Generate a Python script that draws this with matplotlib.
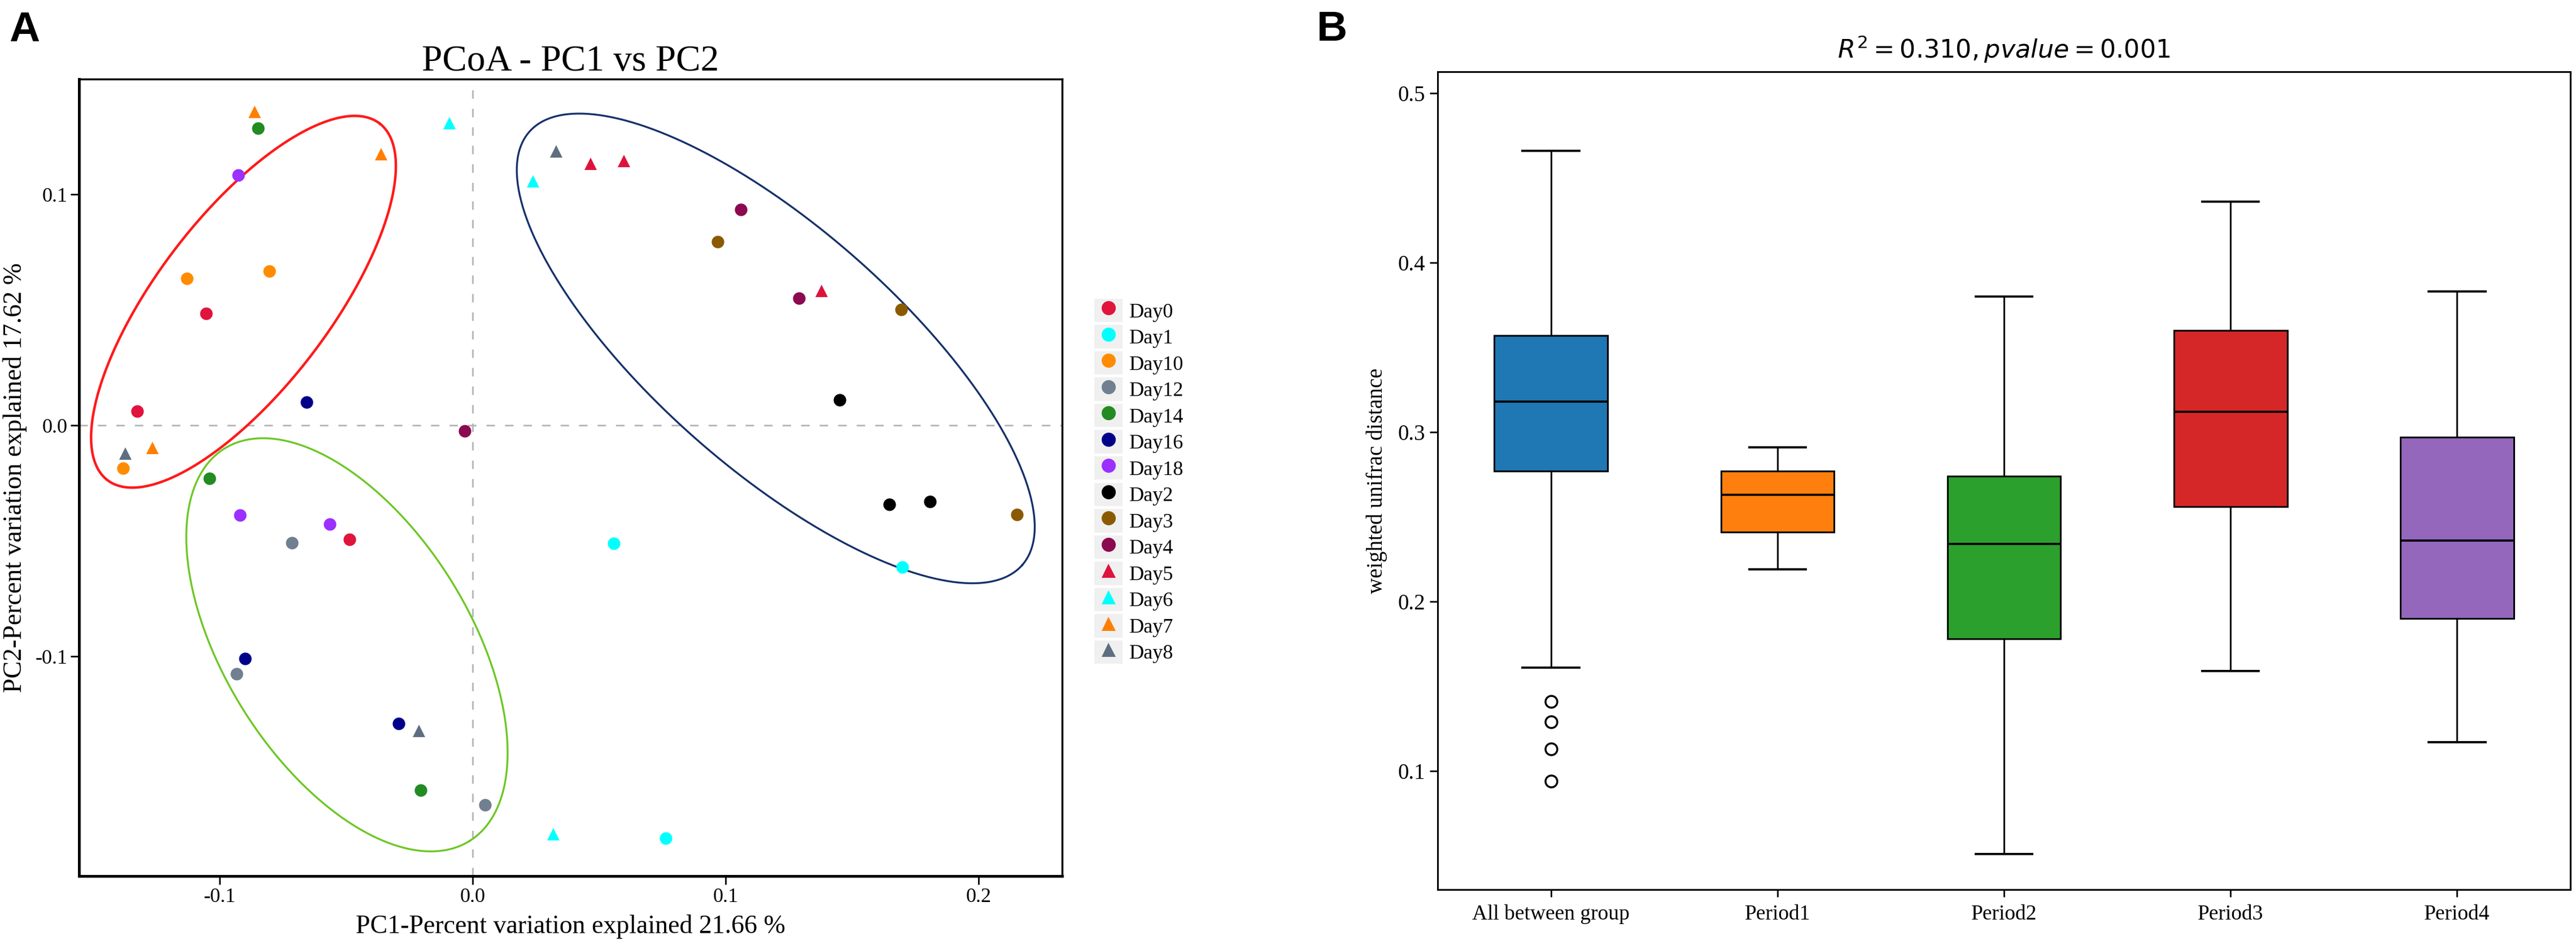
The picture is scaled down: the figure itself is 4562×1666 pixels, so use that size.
import numpy as np
import matplotlib
matplotlib.use("Agg")
import matplotlib.pyplot as plt
from matplotlib.patches import Rectangle
from matplotlib.lines import Line2D

plt.rcParams["axes.unicode_minus"] = False
plt.rcParams["mathtext.fontset"] = "dejavusans"

SERIF = "Liberation Serif"

# ---- panel A: PCoA scores ----
groups = ["Day0", "Day1", "Day10", "Day12", "Day14", "Day16", "Day18",
          "Day2", "Day3", "Day4", "Day5", "Day6", "Day7", "Day8"]
group_colors = ["#E0143C", "#00FFFF", "#FF8C00", "#708090", "#228B22", "#00008B", "#9B30FF",
                "#000000", "#8B5A00", "#8B0A50", "#DC143C", "#00FFFF", "#FF7F00", "#5E6E80"]
group_markers = ["o"] * 10 + ["^"] * 4

pc1 = {
    "Day0": [-0.1053, -0.1326, -0.0487],
    "Day1": [0.0557, 0.1698, 0.0762],
    "Day10": [-0.1129, -0.0804, -0.1382],
    "Day12": [-0.0715, -0.0933, 0.0048],
    "Day14": [-0.0848, -0.1041, -0.0205],
    "Day16": [-0.0657, -0.0900, -0.0292],
    "Day18": [-0.0926, -0.0920, -0.0566],
    "Day2": [0.1451, 0.1647, 0.1808],
    "Day3": [0.0969, 0.1693, 0.2152],
    "Day4": [0.1061, 0.1290, -0.0031],
    "Day5": [0.0467, 0.0597, 0.1379],
    "Day6": [-0.0092, 0.0239, 0.0320],
    "Day7": [-0.0862, -0.0362, -0.1265],
    "Day8": [0.0331, -0.1373, -0.0213],
}
pc2 = {
    "Day0": [0.0485, 0.0061, -0.0494],
    "Day1": [-0.0511, -0.0613, -0.1787],
    "Day10": [0.0636, 0.0668, -0.0186],
    "Day12": [-0.0509, -0.1075, -0.1642],
    "Day14": [0.1286, -0.0230, -0.1579],
    "Day16": [0.0101, -0.1009, -0.1291],
    "Day18": [0.1083, -0.0389, -0.0428],
    "Day2": [0.0111, -0.0343, -0.0329],
    "Day3": [0.0794, 0.0501, -0.0387],
    "Day4": [0.0935, 0.0550, -0.0025],
    "Day5": [0.1133, 0.1144, 0.0583],
    "Day6": [0.1308, 0.1057, -0.1771],
    "Day7": [0.1357, 0.1174, -0.0098],
    "Day8": [0.1185, -0.0123, -0.1323],
}

# hand drawn group ellipses: centre, major half axis, minor half axis (data units)
ellipse_centers = [(-0.0906, 0.0535), (-0.0497, -0.0950), (0.1198, 0.0333)]
ellipse_major = [(0.0538, 0.0772), (0.0485, -0.0849), (0.0974, -0.0938)]
ellipse_minor = [(0.0271, -0.0227), (0.0410, 0.0281), (0.0315, 0.0392)]
ellipse_colors = ["#FF1A1A", "#6CC724", "#15306A"]
ellipse_widths = [3.2, 2.4, 2.4]

a_xticks = [-0.1, 0.0, 0.1, 0.2]
a_xticklabels = ["-0.1", "0.0", "0.1", "0.2"]
a_yticks = [-0.1, 0.0, 0.1]
a_yticklabels = ["-0.1", "0.0", "0.1"]

# ---- panel B: distance boxplots ----
periods = ["All between group", "Period1", "Period2", "Period3", "Period4"]
box_colors = ["#1F77B4", "#FF7F0E", "#2CA02C", "#D62728", "#9467BD"]
whis_hi = [0.466, 0.291, 0.380, 0.436, 0.383]
q3s = [0.357, 0.277, 0.274, 0.360, 0.297]
medians = [0.318, 0.263, 0.234, 0.312, 0.236]
q1s = [0.277, 0.241, 0.178, 0.256, 0.190]
whis_lo = [0.161, 0.219, 0.051, 0.159, 0.117]
outliers = [[0.141, 0.129, 0.113, 0.094], [], [], [], []]
b_yticks = [0.1, 0.2, 0.3, 0.4, 0.5]

W, H = 4562, 1666
fig = plt.figure(figsize=(W / 100, H / 100), dpi=100)


def frac(left, top, right, bottom):
    return [left / W, 1 - bottom / H, (right - left) / W, (bottom - top) / H]


# ================= panel A =================
ax = fig.add_axes(frac(140, 140, 1881, 1551))
ax.axhline(0, color="#B4B4B4", lw=2, ls=(0, (5.4, 6.4)), zorder=1)
ax.axvline(0, color="#B4B4B4", lw=2, ls=(0, (5.4, 6.4)), zorder=1)

handles = []
for g, c, m in zip(groups, group_colors, group_markers):
    ax.plot(pc1[g], pc2[g], ls="none", marker=m, color=c, markersize=16,
            markeredgewidth=0, zorder=3)
    key = Rectangle((0, 0), 1, 1, facecolor="#F0F0F0", edgecolor="none")
    mk = Line2D([], [], ls="none", marker=m, color=c, markersize=18, markeredgewidth=0)
    handles.append((key, mk))

t = np.linspace(0, 2 * np.pi, 400)
for (cx, cy), (mx, my), (nx, ny), c, lw in zip(ellipse_centers, ellipse_major, ellipse_minor,
                                               ellipse_colors, ellipse_widths):
    ax.plot(cx + mx * np.cos(t) + nx * np.sin(t), cy + my * np.cos(t) + ny * np.sin(t),
            color=c, lw=lw, zorder=2)

ax.set_xlim(-0.1556, 0.233)
ax.set_ylim(-0.1951, 0.1499)
ax.set_xticks(a_xticks, a_xticklabels)
ax.set_yticks(a_yticks, a_yticklabels)
ax.tick_params(length=11, width=2, labelsize=26, pad=4)
for lab in ax.get_xticklabels() + ax.get_yticklabels():
    lab.set_fontfamily(SERIF)
for side in ["top", "right"]:
    ax.spines[side].set_linewidth(2.5)
for side in ["bottom", "left"]:
    ax.spines[side].set_linewidth(3.5)

ax.set_title("PCoA - PC1 vs PC2", fontsize=47, family=SERIF, pad=11)
ax.set_xlabel("PC1-Percent variation explained 21.66 %", fontsize=33, family=SERIF)
ax.set_ylabel("PC2-Percent variation explained 17.62 %", fontsize=33, family=SERIF)
ax.xaxis.set_label_coords(0.5, -0.048)
ax.yaxis.set_label_coords(-0.053, 0.5)

fig.legend(handles, groups, loc="center left", bbox_to_anchor=(1938 / W, 1 - 852 / H),
           frameon=False, prop={"family": SERIF, "size": 26}, handlelength=1.39,
           handleheight=1.39, labelspacing=0.14, handletextpad=0.33, borderpad=0,
           borderaxespad=0)

# ================= panel B =================
axb = fig.add_axes(frac(2546, 127, 4552, 1575))
stats = []
for i, name in enumerate(periods):
    stats.append(dict(label=name, med=medians[i], q1=q1s[i], q3=q3s[i],
                      whislo=whis_lo[i], whishi=whis_hi[i], fliers=outliers[i]))
bp = axb.bxp(stats, positions=range(len(periods)), widths=0.5, patch_artist=True,
             boxprops=dict(linewidth=2.2, edgecolor="black"),
             whiskerprops=dict(linewidth=2.2, color="black"),
             capprops=dict(linewidth=2.8, color="black"),
             medianprops=dict(linewidth=2.8, color="black"),
             flierprops=dict(marker="o", markerfacecolor="none", markeredgecolor="black",
                             markersize=15, markeredgewidth=2.5))
for patch, c in zip(bp["boxes"], box_colors):
    patch.set_facecolor(c)

axb.set_xlim(-0.5, len(periods) - 0.5)
axb.set_ylim(0.030, 0.5127)
axb.set_yticks(b_yticks)
axb.tick_params(axis="x", length=9, width=2, labelsize=27, pad=10)
axb.tick_params(axis="y", length=10, width=2, labelsize=28, pad=6)
for lab in axb.get_xticklabels() + axb.get_yticklabels():
    lab.set_fontfamily(SERIF)
for side in axb.spines:
    axb.spines[side].set_linewidth(2.2)
axb.set_ylabel("weighted unifrac distance", fontsize=28, family=SERIF)
axb.yaxis.set_label_coords(-0.0444, 0.5)
axb.set_title(r"$R^2 = 0.310, pvalue = 0.001$", fontsize=32, pad=17)

fig.text(16 / W, 1 - 73 / H, "A", fontsize=54, fontweight="bold", family="Liberation Sans",
         ha="left", va="baseline")
fig.text(2332 / W, 1 - 72 / H, "B", fontsize=54, fontweight="bold", family="Liberation Sans",
         ha="left", va="baseline")

fig.savefig("out.png", dpi=100)
plt.close(fig)
